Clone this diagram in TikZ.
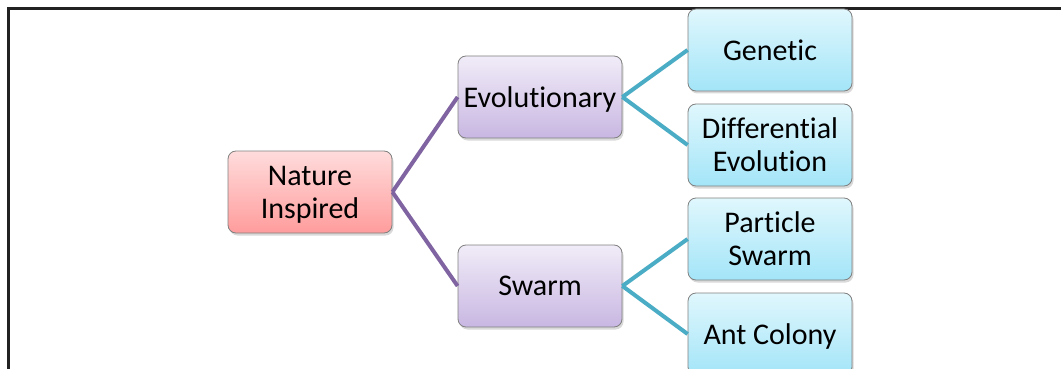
\documentclass[tikz,border=0pt]{standalone}
\usepackage{fontspec}
\setmainfont[Ligatures=NoCommon]{Carlito}
\usetikzlibrary{positioning, shadows}

\definecolor{rootTop}{HTML}{FFDCDC}
\definecolor{rootBot}{HTML}{FF9C9C}
\definecolor{midTop}{HTML}{F1ECF8}
\definecolor{midBot}{HTML}{C8B7E2}
\definecolor{leafTop}{HTML}{E0F7FD}
\definecolor{leafBot}{HTML}{A3E5F8}
\definecolor{purpleline}{HTML}{8064A2}
\definecolor{cyanline}{HTML}{4BACC6}
\definecolor{framecol}{HTML}{222222}

\begin{document}
\begin{tikzpicture}[x=1pt,y=-1pt,
		box/.style={draw=black!50, line width=0.8pt, rounded corners=8pt,
			minimum width=164pt, minimum height=82pt, align=center,
			font=\fontsize{30}{33}\selectfont, text depth=0pt,
			drop shadow={shadow xshift=1.5pt, shadow yshift=-2.5pt, opacity=0.3}},
		rootbox/.style={box, top color=rootTop, bottom color=rootBot},
		midbox/.style={box, top color=midTop, bottom color=midBot},
		leafbox/.style={box, top color=leafTop, bottom color=leafBot},
		toMid/.style={draw=purpleline, line width=4pt},
		toLeaf/.style={draw=cyanline, line width=4pt}]
				\useasboundingbox (0,0) rectangle (1061,369);
				\clip (0,0) rectangle (1061,369);
				\draw[framecol, line width=3pt] (8,372) -- (8,9) -- (1064,9);
				\node[rootbox] (nat) at (310,192) {Nature\\Inspired};
				\node[midbox] (evo) at (540,97) {Evolutionary};
				\node[midbox] (swa) at (540,286) {Swarm};
				\node[leafbox] (gen) at (770,50) {Genetic};
				\node[leafbox] (dif) at (770,145) {Differential\\Evolution};
				\node[leafbox] (par) at (770,239) {Particle\\Swarm};
				\node[leafbox] (ant) at (770,334) {Ant Colony};
				\path[toMid] (nat.east) edge (evo.west)
					(nat.east) edge (swa.west);
				\path[toLeaf] (evo.east) edge (gen.west)
					(evo.east) edge (dif.west)
					(swa.east) edge (par.west)
					(swa.east) edge (ant.west);
			\end{tikzpicture}
\end{document}
